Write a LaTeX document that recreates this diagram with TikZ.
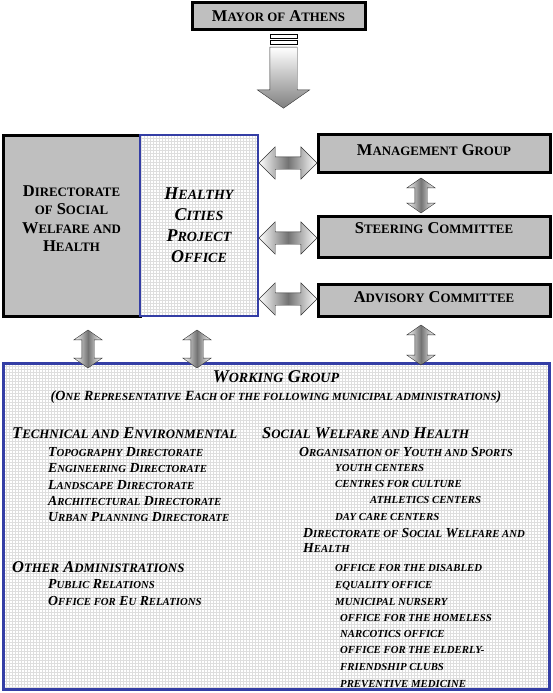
\documentclass[tikz,border=0pt]{standalone}
\usepackage{fontspec}
\setmainfont{Liberation Serif}
\usetikzlibrary{shapes.arrows,patterns}
\definecolor{hcblue}{RGB}{52,62,165}
\makeatletter
% fake small caps: lower case letters set as smaller capitals
\newcommand\lc[1]{{\fontsize{\the\dimexpr0.78\dimexpr\f@size pt\relax\relax}{0pt}\selectfont\MakeUppercase{#1}}}
\makeatother

\begin{document}
\begin{tikzpicture}[x=1pt,y=-1pt]
  \tikzstyle{graybox}=[draw=black, line width=3pt, fill=black!25, inner sep=0pt]
  \tikzstyle{gridbox}=[pattern=grid, pattern color=black!13, inner sep=0pt, outer sep=0pt]
  \tikzstyle{title}=[font=\fontsize{16.5}{18.3}\selectfont\bfseries, align=center, inner sep=0pt]
  \tikzstyle{item}=[anchor=base west, inner sep=0pt, font=\fontsize{13.8}{16}\selectfont\bfseries\itshape]
  \tikzstyle{head}=[item, font=\fontsize{16.5}{18}\selectfont\bfseries\itshape]
  \tikzstyle{harrow}=[double arrow, draw=black!80, thin, inner sep=6pt, double arrow head extend=10pt,
    minimum height=58pt, left color=white, right color=white, middle color=black!55]
  \tikzstyle{varrow}=[harrow, shape border rotate=90, double arrow head extend=8pt, double arrow tip angle=110]
  \tikzstyle{stripe}=[draw=black, line width=0.8pt, fill=white, minimum width=27pt, minimum height=4pt, inner sep=0pt]
  \useasboundingbox (0,0) rectangle (553,693);

  % top
  \node[graybox, title, minimum width=173pt, minimum height=27pt] (mayor) at (278.5,16.5) {M\lc{ayor of} A\lc{thens}};
  \node[stripe] (st1) at (283.5,36) {};
  \node[stripe] (st2) at (283.5,42) {};
  \node[single arrow, draw=black!80, thin, inner sep=13.5pt, single arrow head extend=12.5pt,
    single arrow tip angle=110, minimum height=61pt, shape border rotate=270, anchor=tail,
    top color=white, bottom color=black!50] (down) at (283.5,47) {};

  % left block
  \node[graybox, minimum width=137pt, minimum height=181pt] (dir) at (71.5,225.5) {};
  \node[title] (dirtext) at ([yshift=7pt]dir.center) {D\lc{irectorate}\\\lc{of} S\lc{ocial}\\W\lc{elfare and}\\H\lc{ealth}};
  \node[gridbox, draw=hcblue, line width=2pt, minimum width=118pt, minimum height=181pt,
    font=\fontsize{18}{21}\selectfont\bfseries\itshape, align=center] (hco) at (199,225.5)
    {H\lc{ealthy}\\C\lc{ities}\\P\lc{roject}\\O\lc{ffice}};

  % right block
  \node[graybox, title, minimum width=232pt, minimum height=38pt, text depth=6pt] (mg) at (434,153) {M\lc{anagement} G\lc{roup}};
  \node[graybox, title, minimum width=232pt, minimum height=41pt, text depth=16pt] (sc) at (434,236.5) {S\lc{teering} C\lc{ommittee}};
  \node[graybox, title, minimum width=232pt, minimum height=32pt, text depth=5pt] (ac) at (434,300) {A\lc{dvisory} C\lc{ommittee}};

  % working group
  \node[gridbox, minimum width=546pt, minimum height=326.5pt] (wg) at (276,526.25) {};
  \node[item, anchor=center, font=\fontsize{18}{20}\selectfont\bfseries\itshape] (wgt) at (276,377) {W\lc{orking} G\lc{roup}};
  \node[item, anchor=center, font=\fontsize{14}{16}\selectfont\bfseries\itshape] (wgs) at (276,397)
    {(O\lc{ne} R\lc{epresentative} E\lc{ach of the following municipal administrations})};

  \node[head] (tech) at (12,438.5) {T\lc{echnical and} E\lc{nvironmental}};
  \node[item] (t1) at (48,456.5) {T\lc{opography} D\lc{irectorate}};
  \node[item] (t2) at (48,472.75) {E\lc{ngineering} D\lc{irectorate}};
  \node[item] (t3) at (48,489) {L\lc{andscape} D\lc{irectorate}};
  \node[item] (t4) at (48,505.25) {A\lc{rchitectural} D\lc{irectorate}};
  \node[item] (t5) at (48,521.5) {U\lc{rban} P\lc{lanning} D\lc{irectorate}};
  \node[head] (oth) at (12,572) {O\lc{ther} A\lc{dministrations}};
  \node[item] (o1) at (48,588.5) {P\lc{ublic} R\lc{elations}};
  \node[item] (o2) at (48,605.5) {O\lc{ffice for} E\lc{u} R\lc{elations}};

  \node[head] (soc) at (262,438.5) {S\lc{ocial} W\lc{elfare and} H\lc{ealth}};
  \node[item] (s1) at (299,456.5) {O\lc{rganisation of} Y\lc{outh and} S\lc{ports}};
  \node[item] (s2) at (335,471.7) {\lc{youth centers}};
  \node[item] (s3) at (335,487.7) {\lc{centres for culture}};
  \node[item] (s4) at (370,503.7) {\lc{athletics centers}};
  \node[item] (s5) at (335,520.7) {\lc{day care centers}};
  \node[item] (s6) at (303,537.6) {D\lc{irectorate of} S\lc{ocial} W\lc{elfare and}};
  \node[item] (s7) at (303,552.6) {H\lc{ealth}};
  \node[item] (s8) at (335,571.7) {\lc{office for the disabled}};
  \node[item] (s9) at (335,588.7) {\lc{equality office}};
  \node[item] (s10) at (335,605.7) {\lc{municipal nursery}};
  \node[item] (s11) at (340,621.7) {\lc{office for the homeless}};
  \node[item] (s12) at (340,637.7) {\lc{narcotics office}};
  \node[item] (s13) at (340,653.7) {\lc{office for the elderly-}};
  \node[item] (s14) at (340,670.7) {\lc{friendship clubs}};
  \node[item] (s15) at (340,687.5) {\lc{preventive medicine}};
  \draw[hcblue, line width=3pt] (wg.north west) rectangle (wg.south east);

  % arrows
  \node[harrow] (a1) at (288,163) {};
  \node[harrow] (a2) at (288,238) {};
  \node[harrow] (a3) at (288,299) {};
  \node[varrow, minimum height=35pt] (a4) at (421,195.5) {};
  \node[varrow, minimum height=38pt] (a5) at (88,349) {};
  \node[varrow, minimum height=38pt] (a6) at (197,349) {};
  \node[varrow, minimum height=40pt] (a7) at (421,345) {};
\end{tikzpicture}
\end{document}
